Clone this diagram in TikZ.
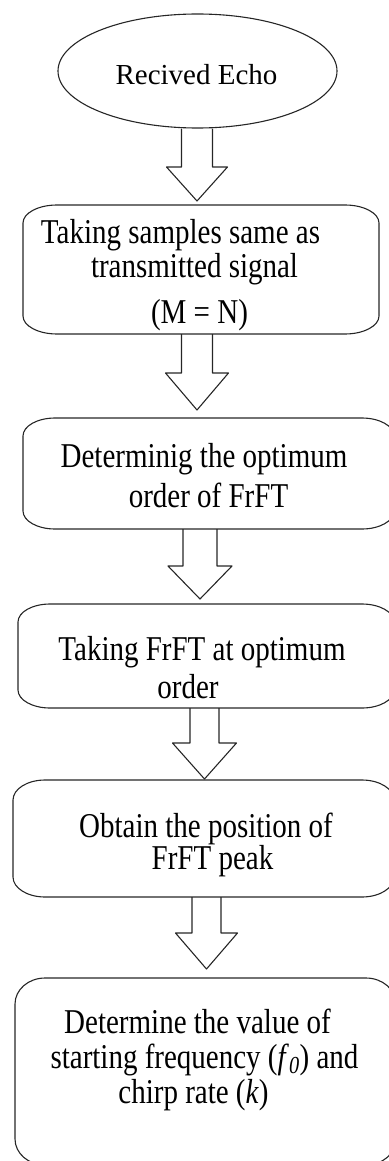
\documentclass[tikz,border=0pt]{standalone}
\usepackage{fontspec}
\usepackage{graphicx}
\setmainfont{Liberation Serif}
\usetikzlibrary{shapes.geometric,fit,calc}
\tikzset{
  boxline/.style={draw=black!85, line width=1.1pt, line join=round},
  txt/.style={anchor=base, inner sep=0pt, font=\fontsize{29}{33}\selectfont},
}
\newcommand\tallt[1]{\scalebox{1}[1.2]{#1}}
% rounded box with elliptic corners: name, x1, y1, x2, y2, rx, ry
\newcommand\ellcornerbox[7]{%
  \node[fit={(#2,#3) (#4,#5)}, inner sep=0pt] (#1) {};
  \draw[boxline] (#2+#6,#3) -- (#4-#6,#3)
     .. controls (#4-0.448*#6,#3) and (#4,#3+0.448*#7) .. (#4,#3+#7)
     -- (#4,#5-#7)
     .. controls (#4,#5-0.448*#7) and (#4-0.448*#6,#5) .. (#4-#6,#5)
     -- (#2+#6,#5)
     .. controls (#2+0.448*#6,#5) and (#2,#5-0.448*#7) .. (#2,#5-#7)
     -- (#2,#3+#7)
     .. controls (#2,#3+0.448*#7) and (#2+0.448*#6,#3) .. (#2+#6,#3) -- cycle;
}
% block arrow: from node, to node, x centre, half shaft, half head, wing y, tip y
\newcommand\blockarrow[7]{%
  \draw[boxline] let \p1=(#1.south) in
    ({#3-#4},\y1) -- (#3-#4,#6) -- (#3-#5,#6) -- (#3,#7) -- (#3+#5,#6)
    -- (#3+#4,#6) -- ({#3+#4},\y1);
}
\begin{document}
\begin{tikzpicture}[x=1pt,y=-1pt]
\useasboundingbox (0,0) rectangle (388,1161);

% start ellipse
\node[ellipse, boxline, minimum width=279pt, minimum height=114pt, inner sep=0pt] (e) at (197.5,71) {};
\node[txt] (et) at (196.5,85) {Recived Echo};

% boxes
\ellcornerbox{b1}{23}{205}{379}{334}{34}{18}
\node[txt] (b1a) at (180.5,243) {\tallt{Taking samples same as}};
\node[txt] (b1b) at (194.5,277) {\tallt{transmitted signal}};
\node[txt] (b1c) at (199.5,323) {\tallt{(M = N)}};

\ellcornerbox{b2}{23}{418}{394}{529}{32}{18}
\node[txt] (b2a) at (204,467) {\tallt{Determinig the optimum}};
\node[txt] (b2b) at (208.5,507) {\tallt{order of FrFT}};

\ellcornerbox{b3}{18}{604}{394}{708}{32}{18}
\node[txt] (b3a) at (202,660) {\tallt{Taking FrFT at optimum}};
\node[txt] (b3b) at (188,698) {\tallt{order}};

\ellcornerbox{b4}{13}{780}{394}{897}{32}{20}
\node[txt] (b4a) at (206,837) {\tallt{Obtain the position of}};
\node[txt] (b4b) at (212.5,869) {\tallt{FrFT peak}};

\ellcornerbox{b5}{15}{978}{396}{1165}{30}{26}
\node[txt] (b5a) at (197.5,1033) {\tallt{Determine the value of}};
\node[txt] (b5b) at (204.5,1068) {\tallt{starting frequency (\textit{f}\textsubscript{\textit{0}}) and}};
\node[txt] (b5c) at (193.5,1103) {\tallt{chirp rate (\textit{k})}};

% block arrows
\blockarrow{e}{b1}{197}{15.5}{30.5}{167}{201}
\blockarrow{b1}{b2}{197}{15.5}{31.5}{373}{410}
\blockarrow{b2}{b3}{200}{17}{32}{566}{599}
\blockarrow{b3}{b4}{204.5}{14.5}{32}{743}{779}
\blockarrow{b4}{b5}{206.5}{14.5}{31}{933}{969}
\end{tikzpicture}
\end{document}
